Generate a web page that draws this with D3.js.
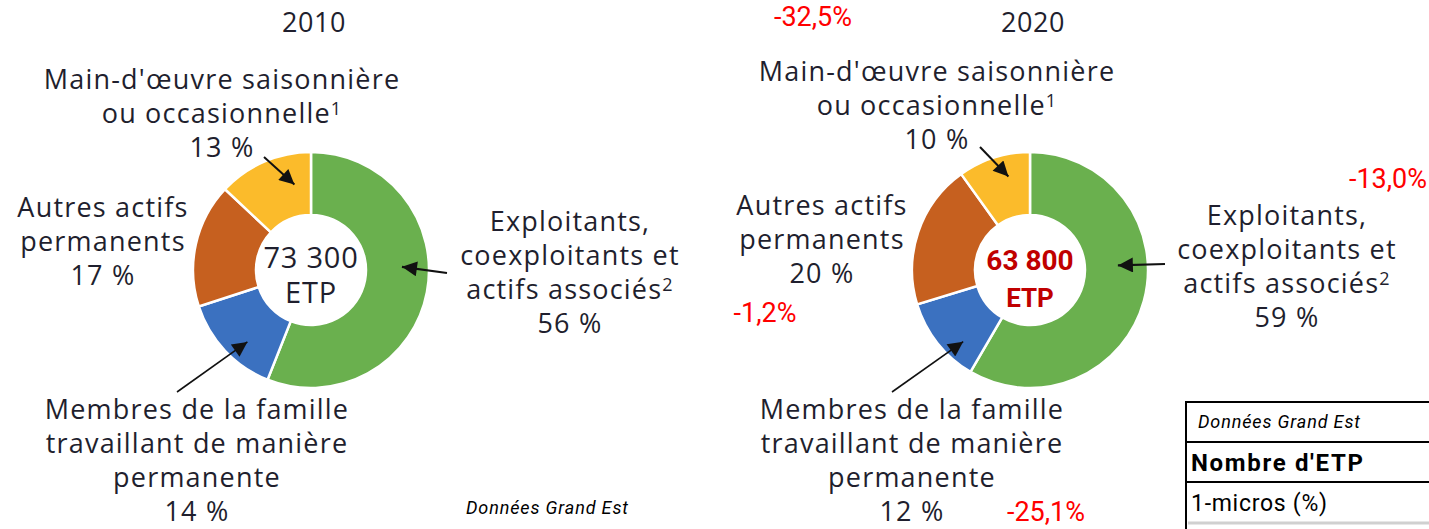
<!DOCTYPE html>
<html>
<head>
<meta charset="utf-8">
<script src="https://cdn.jsdelivr.net/npm/d3@7"></script>
<style>
  body { margin: 0; background: #fff; }
  .label { font-family: "Open Sans", Lato, sans-serif; font-size: 27px; letter-spacing: 1.2px; fill: #1f1f2e; text-anchor: middle; }
  .title { font-family: "Open Sans", Lato, sans-serif; font-size: 27px; letter-spacing: 0.5px; fill: #1f1f2e; text-anchor: middle; }
  .change { font-family: Roboto, sans-serif; font-size: 27px; fill: #ff0000; text-anchor: middle; }
  .note { font-family: Roboto, sans-serif; font-style: italic; font-size: 18px; fill: #000; }
  .table-text { font-family: Roboto, sans-serif; fill: #000; }
</style>
</head>
<body>
<div id="chart"></div>
<script>
//////////////////////////////////////////////////////////////
//////////////////////////// Data ////////////////////////////
//////////////////////////////////////////////////////////////

const years = ["2010", "2020"]
const categories = ["Exploitants", "Membres", "Autres", "Main-d'oeuvre"]
const values2010 = [56, 14, 17, 13]
const values2020 = [59, 12, 20, 10]
const totals = ["73 300", "63 800"]
const changes = ["-13,0%", "-25,1%", "-1,2%", "-32,5%"]

//Label lines per category (last line gets the percentage)
const labelLines = [
    ["Exploitants,", "coexploitants et", "actifs associés|2"],
    ["Membres de la famille", "travaillant de manière", "permanente"],
    ["Autres actifs", "permanents"],
    ["Main-d'œuvre saisonnière", "ou occasionnelle|1"]
]

const colors = ["#6ab04e", "#3b71c0", "#c6601f", "#fbbb2b"]

//////////////////////////////////////////////////////////////
/////////////////////// Layout constants /////////////////////
//////////////////////////////////////////////////////////////

const W = 1429, H = 529
const outerR = 118, innerR = 55
const lineH = 34
const deg = Math.PI / 180

//Per donut: center, label anchors (x, first baseline), arrows (angle, radius, tail)
const layout = [
    {
        cx: 311, cy: 270, titleY: 32,
        labels: [[570, 231], [197, 419], [103, 217], [222, 89]],
        arrows: [
            {cat: 0, angle: 88, r: 91, tail: [447, 273], w: 2.2},
            {cat: 1, angle: 221.5, r: 96, tail: [177, 392], w: 1.6},
            {cat: 3, angle: 349, r: 87, tail: [264, 157], w: 2}
        ]
    },
    {
        cx: 1030, cy: 270, titleY: 32,
        labels: [[1287, 225], [912, 419], [822, 215], [937, 81]],
        arrows: [
            {cat: 0, angle: 87, r: 88, tail: [1165, 264], w: 2.2},
            {cat: 1, angle: 223, r: 98, tail: [892, 392], w: 1.6},
            {cat: 3, angle: 347, r: 96, tail: [980, 147], w: 2}
        ]
    }
]

//Position of the red change labels (same order as categories)
const changePos = [[1388, 188], [1046, 521], [765, 322], [813, 26]]

//////////////////////////////////////////////////////////////
////////////////////////// Create SVG ////////////////////////
//////////////////////////////////////////////////////////////

const svg = d3.select("#chart")
    .append("svg")
    .attr("width", W)
    .attr("height", H)

const defs = svg.append("defs")
defs.append("marker")
    .attr("id", "arrowhead")
    .attr("viewBox", "0 0 10 10")
    .attr("refX", 10)
    .attr("refY", 5)
    .attr("markerWidth", 19)
    .attr("markerHeight", 15)
    .attr("markerUnits", "userSpaceOnUse")
    .attr("orient", "auto")
    .append("path")
    .attr("d", "M0,0 L10,5 L0,10 Z")
    .style("fill", "#111")

const pie = d3.pie()
    .sort(null)
    .value(d => d)

const arc = d3.arc()
    .innerRadius(innerR)
    .outerRadius(outerR)

const color = d3.scaleOrdinal()
    .domain(categories)
    .range(colors)

//////////////////////////////////////////////////////////////
////////////////////////// Draw donuts ///////////////////////
//////////////////////////////////////////////////////////////

;[values2010, values2020].forEach((values, k) => {
    const L = layout[k]

    //Year title
    svg.append("text")
        .attr("class", "title")
        .attr("x", L.cx + 3)
        .attr("y", L.titleY)
        .text(years[k])

    const g = svg.append("g")
        .attr("transform", "translate(" + L.cx + "," + L.cy + ")")

    g.selectAll(".slice")
        .data(pie(values))
        .enter().append("path")
        .attr("class", "slice")
        .attr("d", arc)
        .style("fill", (d,i) => color(categories[i]))
        .style("stroke", "#fff")
        .style("stroke-width", 2.5)

    //Center total
    if (k === 0) {
        g.append("text").attr("class", "label").attr("y", -2).style("font-size", "29px").style("letter-spacing", "0.8px").text(totals[k])
        g.append("text").attr("class", "label").attr("y", 33).style("font-size", "29px").style("letter-spacing", "0.8px").text("ETP")
    } else {
        g.append("text")
            .attr("y", 0)
            .style("font-family", "Roboto, sans-serif")
            .style("font-weight", "bold")
            .style("font-size", "28px")
            .style("fill", "#c00000")
            .style("text-anchor", "middle")
            .text(totals[k])
        g.append("text")
            .attr("y", 37)
            .style("font-family", "Roboto, sans-serif")
            .style("font-weight", "bold")
            .style("font-size", "26px")
            .style("fill", "#c00000")
            .style("text-anchor", "middle")
            .text("ETP")
    }

    //Category labels
    categories.forEach((c, i) => {
        const [x, y] = L.labels[i]
        const lines = labelLines[i].concat([values[i] + " %"])
        const t = svg.append("text")
            .attr("class", "label")
            .attr("x", x)
            .attr("y", y)
        lines.forEach((line, j) => {
            const parts = line.split("|")
            const ts = t.append("tspan")
                .attr("x", x)
                .attr("y", y + j * lineH)
                .text(parts[0])
            if (parts[1]) {
                ts.append("tspan")
                    .attr("dy", -8)
                    .style("font-size", "18px")
                    .text(parts[1])
            }
        })
    })

    //Arrows pointing into the slices
    L.arrows.forEach(a => {
        const tx = L.cx + a.r * Math.sin(a.angle * deg)
        const ty = L.cy - a.r * Math.cos(a.angle * deg)
        svg.append("line")
            .attr("x1", a.tail[0])
            .attr("y1", a.tail[1])
            .attr("x2", tx)
            .attr("y2", ty)
            .style("stroke", "#111")
            .style("stroke-width", a.w)
            .attr("marker-end", "url(#arrowhead)")
    })
})

//////////////////////////////////////////////////////////////
//////////////////////// Change labels ///////////////////////
//////////////////////////////////////////////////////////////

svg.selectAll(".change")
    .data(changes)
    .enter().append("text")
    .attr("class", "change")
    .attr("x", (d,i) => changePos[i][0])
    .attr("y", (d,i) => changePos[i][1])
    .text(d => d)

svg.append("text")
    .attr("class", "note")
    .attr("x", 466)
    .attr("y", 514)
    .attr("textLength", 162)
    .text("Données Grand Est")

//////////////////////////////////////////////////////////////
//////////////////////////// Table ///////////////////////////
//////////////////////////////////////////////////////////////

const table = svg.append("g").attr("class", "table")
const rowY = [402, 442, 482]

table.selectAll(".row-line")
    .data(rowY)
    .enter().append("line")
    .attr("x1", 1186).attr("x2", W)
    .attr("y1", d => d).attr("y2", d => d)
    .style("stroke", "#000")
    .style("stroke-width", 2)

table.append("line")
    .attr("x1", 1188).attr("x2", W)
    .attr("y1", 523).attr("y2", 523)
    .style("stroke", "#d0d0d0")
    .style("stroke-width", 3)

table.append("line")
    .attr("x1", 1186).attr("x2", 1186)
    .attr("y1", 401).attr("y2", H)
    .style("stroke", "#000")
    .style("stroke-width", 2)

table.append("text")
    .attr("class", "table-text")
    .attr("x", 1198).attr("y", 428)
    .attr("textLength", 162)
    .style("font-style", "italic")
    .style("font-size", "18px")
    .text("Données Grand Est")

table.append("text")
    .attr("class", "table-text")
    .attr("x", 1191).attr("y", 471)
    .attr("textLength", 172)
    .style("font-weight", "bold")
    .style("font-size", "24px")
    .text("Nombre d'ETP")

table.append("text")
    .attr("class", "table-text")
    .attr("x", 1191).attr("y", 511)
    .attr("textLength", 136)
    .style("font-size", "23px")
    .text("1-micros (%)")
</script>
</body>
</html>
